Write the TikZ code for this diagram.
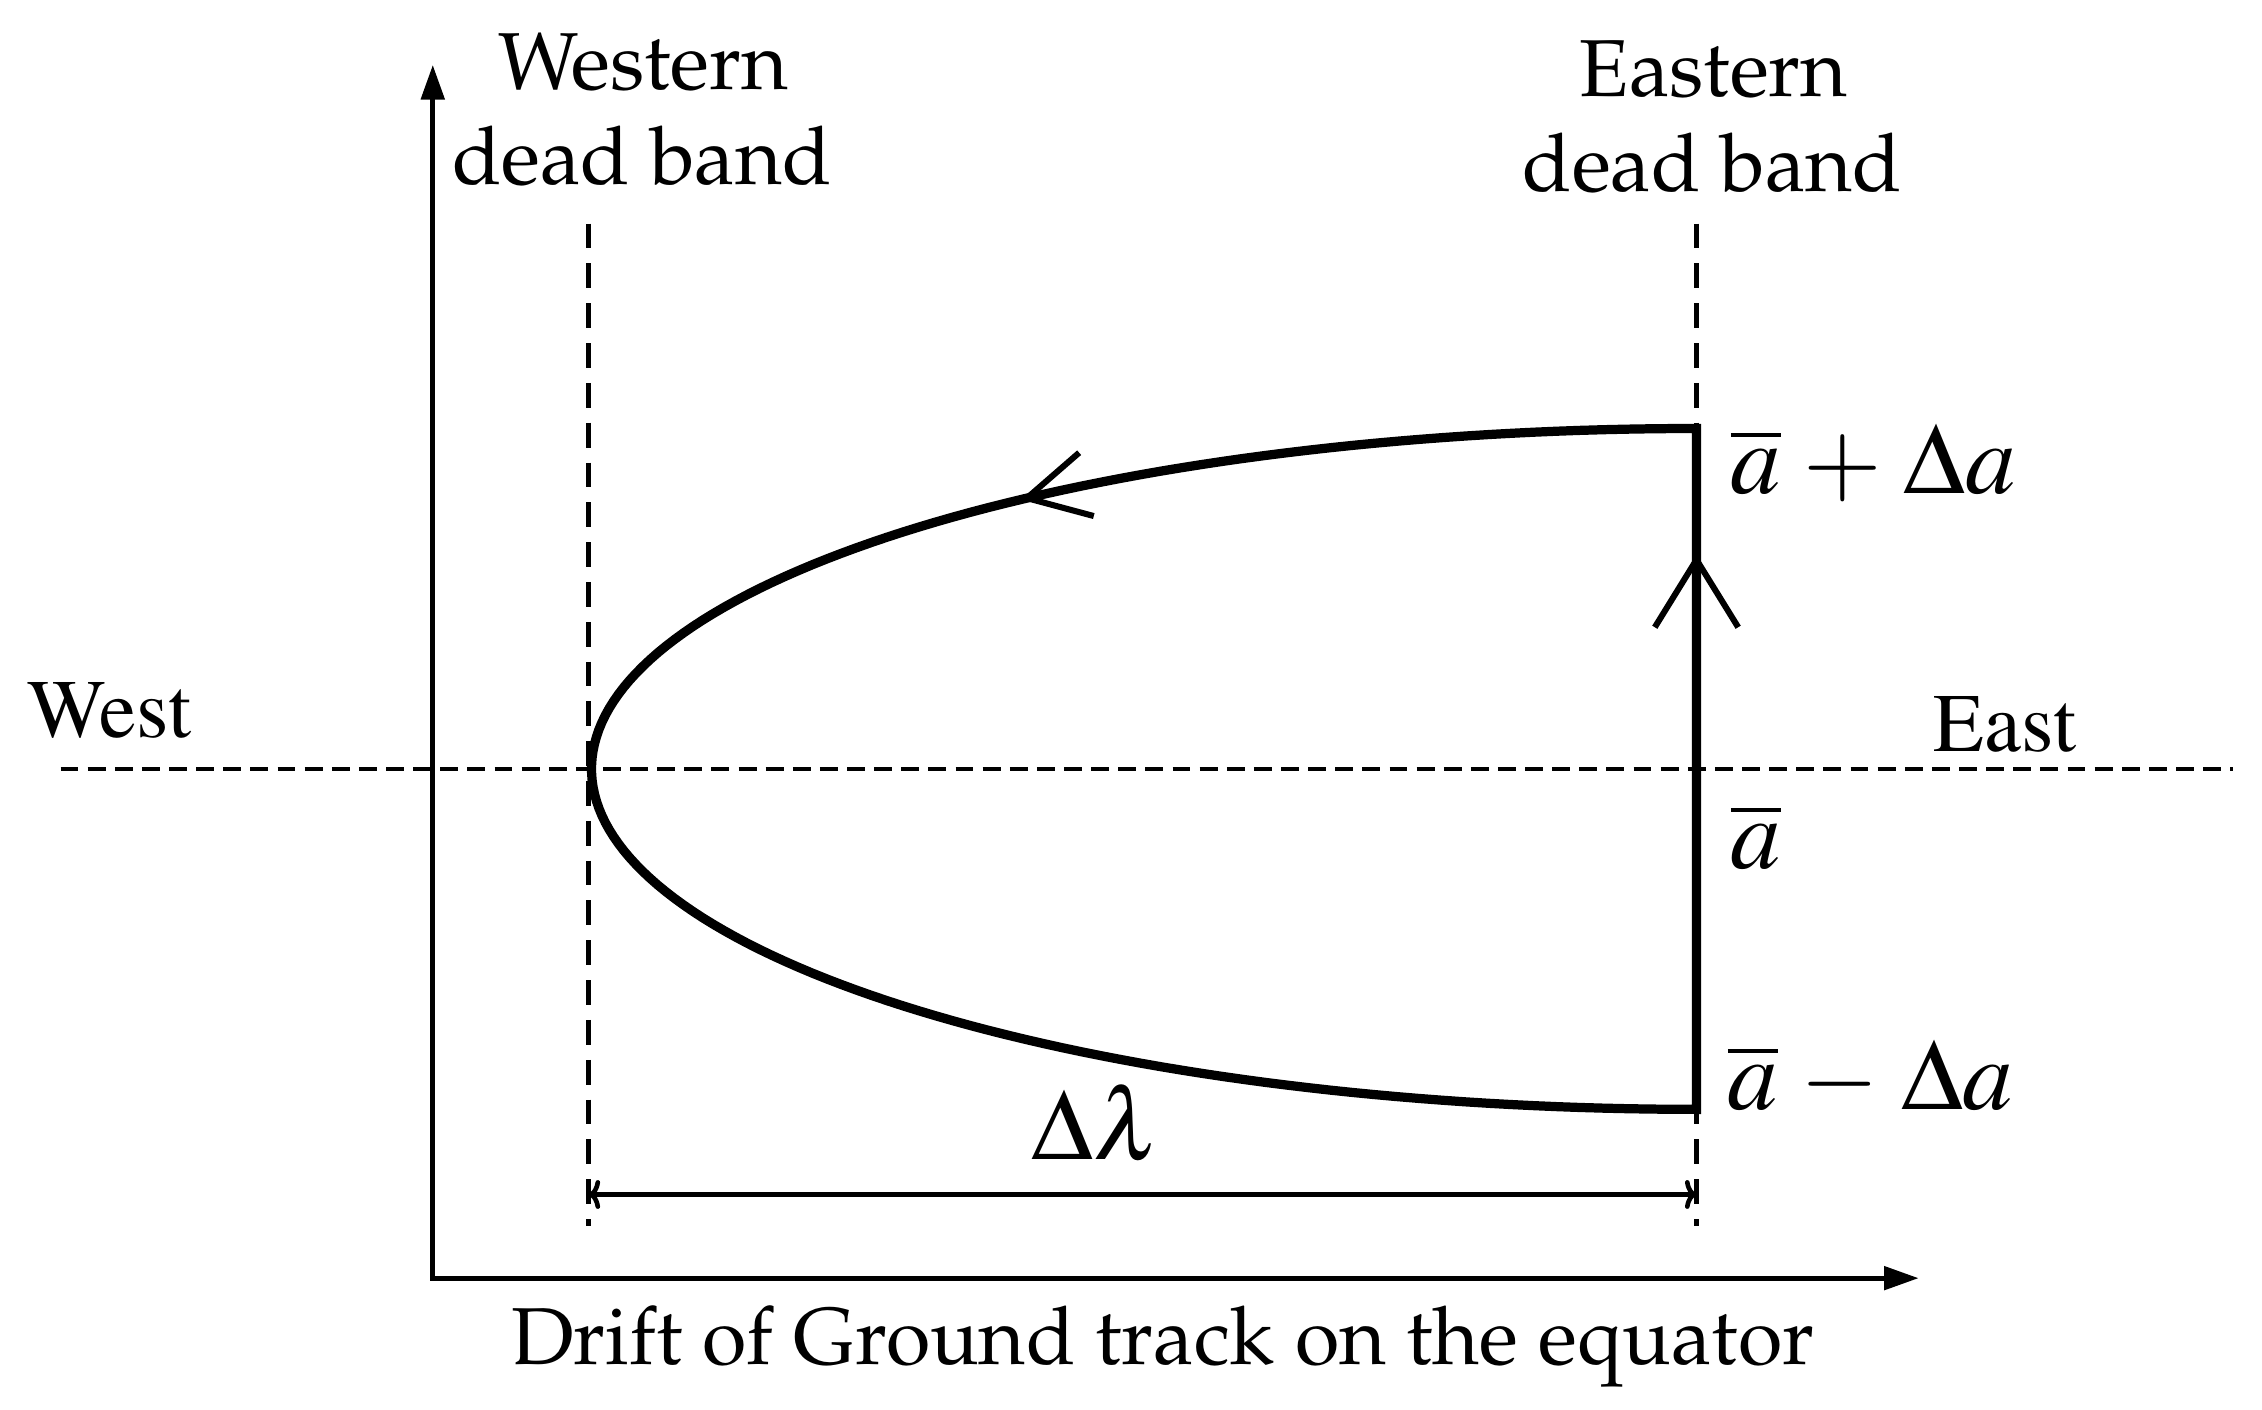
\documentclass[tikz,border=0pt]{standalone}
\usepackage[T1]{fontenc}
\usepackage{mathptmx}
\renewcommand{\rmdefault}{ppl}
\usetikzlibrary{arrows.meta}
\newcommand{\timesfont}{\fontfamily{ptm}\selectfont}
\tikzset{
  axisline/.style={line width=0.85pt},
  guide/.style={line width=0.8pt, dash pattern=on 4.3pt off 2.6pt},
  equator/.style={line width=0.8pt, dash pattern=on 3.1pt off 1.6pt},
  orbit/.style={line width=1.6pt, line join=miter},
  chev/.style={line width=1.05pt},
  dimline/.style={line width=0.8pt},
  lbl/.style={inner sep=0pt, font=\fontsize{14}{16}\selectfont},
  tlbl/.style={inner sep=0pt, font=\fontsize{14.4}{16}\timesfont},
  mlbl/.style={inner sep=0pt, font=\fontsize{17.5}{20}\selectfont},
}
\begin{document}
\begin{tikzpicture}[x=0.25pt,y=-0.25pt]
\useasboundingbox (0,0) rectangle (1568,977);
% axes
\coordinate (O) at (300,886);
\coordinate (Ytip) at (300,45);
\coordinate (Xtip) at (1330,886);
\draw[axisline,{Triangle[length=6pt,width=4pt]}-{Triangle[length=6pt,width=4pt]}] (Ytip) -- (O) -- (Xtip);
% equator
\coordinate (Wend) at (42,533);
\coordinate (Eend) at (1548,533);
\draw[equator] (Wend) -- (Eend);
% dead band guides
\coordinate (WGtop) at (408,155);
\coordinate (WGbot) at (408,850);
\coordinate (EGtop) at (1176,155);
\coordinate (EGbot) at (1176,850);
\draw[guide] (WGtop) -- (WGbot);
\draw[guide] (EGtop) -- (EGbot);
% orbit
\coordinate (Top) at (1176,297);
\coordinate (Bot) at (1176,769);
\draw[orbit] plot[domain=90:270,samples=150] ({1176+766*cos(\x)},{533-236*sin(\x)}) -- cycle;
% direction chevrons
\coordinate (Ctip) at ({1176+766*cos(127.3)},{533-236*sin(127.3)});
\draw[chev] (Ctip) ++(-41:48) -- (Ctip) -- ++(15:48);
\coordinate (Vtip) at (1176,388);
\draw[chev] (Vtip) ++(121.7:55) -- (Vtip) -- ++(58.3:55);
% dimension
\coordinate (DL) at (408,828);
\coordinate (DR) at (1176,828);
\draw[dimline,{To[length=2pt,width=5pt]}-{To[length=2pt,width=5pt]}] (DL) -- (DR);
% labels
\node[lbl,anchor=base] (wl1) at (446,62) {Western};
\node[lbl,anchor=base] (wl2) at (445,128) {dead band};
\node[lbl,anchor=base] (el1) at (1188,67) {Eastern};
\node[lbl,anchor=base] (el2) at (1187,133) {dead band};
\node[lbl,anchor=base] (xlab) at (806,946) {Drift of Ground track on the equator};
\node[tlbl,anchor=base] (west) at (76,511) {West};
\node[tlbl,anchor=base] (east) at (1390,521) {East};
\node[mlbl,anchor=base] (dlam) at (760,804) {$\Delta\lambda$};
\node[mlbl,anchor=base west] (aplus) at (1199,342) {$\overline{a}\mathbin{\hspace{0.08em}+\hspace{0.08em}}\Delta a$};
\node[mlbl,anchor=base west] (abar) at (1199,602) {$\overline{a}$};
\node[mlbl,anchor=base west] (aminus) at (1197,769) {$\overline{a}\mathbin{\hspace{0.08em}-\hspace{0.08em}}\Delta a$};
\end{tikzpicture}
\end{document}
